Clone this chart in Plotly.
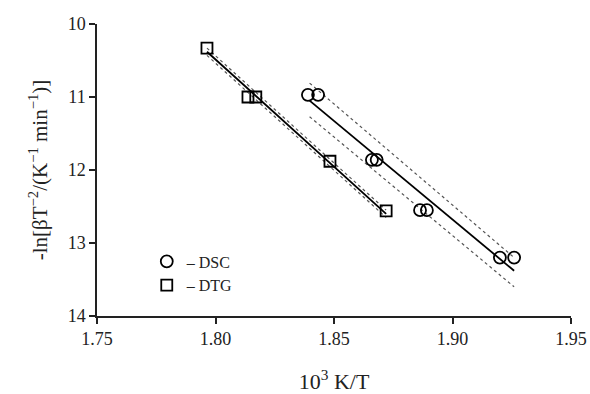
import plotly.graph_objects as go

# DSC data
dsc_x = [1.839, 1.8433, 1.866, 1.868, 1.8863, 1.8892, 1.920, 1.926]
dsc_y = [10.97, 10.97, 11.86, 11.86, 12.55, 12.55, 13.20, 13.20]
# DTG data
dtg_x = [1.7964, 1.8137, 1.817, 1.8483, 1.872]
dtg_y = [10.33, 11.00, 11.00, 11.88, 12.56]

# fit lines (endpoints) and confidence bands
dsc_fit_x = [1.8397, 1.926]
dsc_fit_y = [11.05, 13.38]
dsc_up_y = [10.81, 13.20]
dsc_lo_y = [11.27, 13.60]
dtg_fit_x = [1.7964, 1.872]
dtg_fit_y = [10.38, 12.60]
dtg_up_y = [10.33, 12.55]
dtg_lo_y = [10.43, 12.65]

font = "Liberation Serif, Times New Roman, serif"
fig = go.Figure()

dot = dict(color="#555", width=1.2, dash="dot")
for fx, uy, ly in [(dsc_fit_x, dsc_up_y, dsc_lo_y), (dtg_fit_x, dtg_up_y, dtg_lo_y)]:
    fig.add_trace(go.Scatter(x=fx, y=uy, mode="lines", line=dot, showlegend=False, hoverinfo="skip"))
    fig.add_trace(go.Scatter(x=fx, y=ly, mode="lines", line=dot, showlegend=False, hoverinfo="skip"))

fig.add_trace(go.Scatter(x=dsc_fit_x, y=dsc_fit_y, mode="lines", line=dict(color="black", width=1.8), showlegend=False))
fig.add_trace(go.Scatter(x=dtg_fit_x, y=dtg_fit_y, mode="lines", line=dict(color="black", width=1.8), showlegend=False))

fig.add_trace(go.Scatter(x=dsc_x, y=dsc_y, mode="markers", name="– DSC",
                         marker=dict(symbol="circle-open", size=12, color="black", line=dict(width=1.8))))
fig.add_trace(go.Scatter(x=dtg_x, y=dtg_y, mode="markers", name="– DTG",
                         marker=dict(symbol="square-open", size=11, color="black", line=dict(width=1.8))))

fig.update_layout(
    width=590, height=394,
    margin=dict(l=97, r=19, t=24, b=78),
    plot_bgcolor="white", paper_bgcolor="white",
    font=dict(family=font, size=18, color="#222"),
    legend=dict(x=0.105, y=0.245, xanchor="left", yanchor="top", bgcolor="rgba(0,0,0,0)",
                font=dict(family=font, size=16), itemwidth=30, tracegroupgap=0),
    xaxis=dict(range=[1.75, 1.95], tickvals=[1.75, 1.80, 1.85, 1.90, 1.95],
               ticktext=["1.75", "1.80", "1.85", "1.90", "1.95"], automargin=False,
               showline=True, linecolor="#222", linewidth=1.5, ticks="outside", ticklen=6,
               tickcolor="#222", tickwidth=1.5, showgrid=False, zeroline=False,
               title=dict(text="10<sup>3</sup> K/T", font=dict(family=font, size=22), standoff=31)),
    yaxis=dict(range=[14, 10], tickvals=[10, 11, 12, 13, 14], automargin=False,
               showline=True, linecolor="#222", linewidth=1.5, ticks="outside", ticklen=6,
               tickcolor="#222", tickwidth=1.5, showgrid=False, zeroline=False,
               title=dict(text="-ln[βT<sup>−2</sup>/(K<sup>−1</sup> min<sup>−1</sup>)]",
                          font=dict(family=font, size=21), standoff=14)),
)
fig.write_html("out.html")
